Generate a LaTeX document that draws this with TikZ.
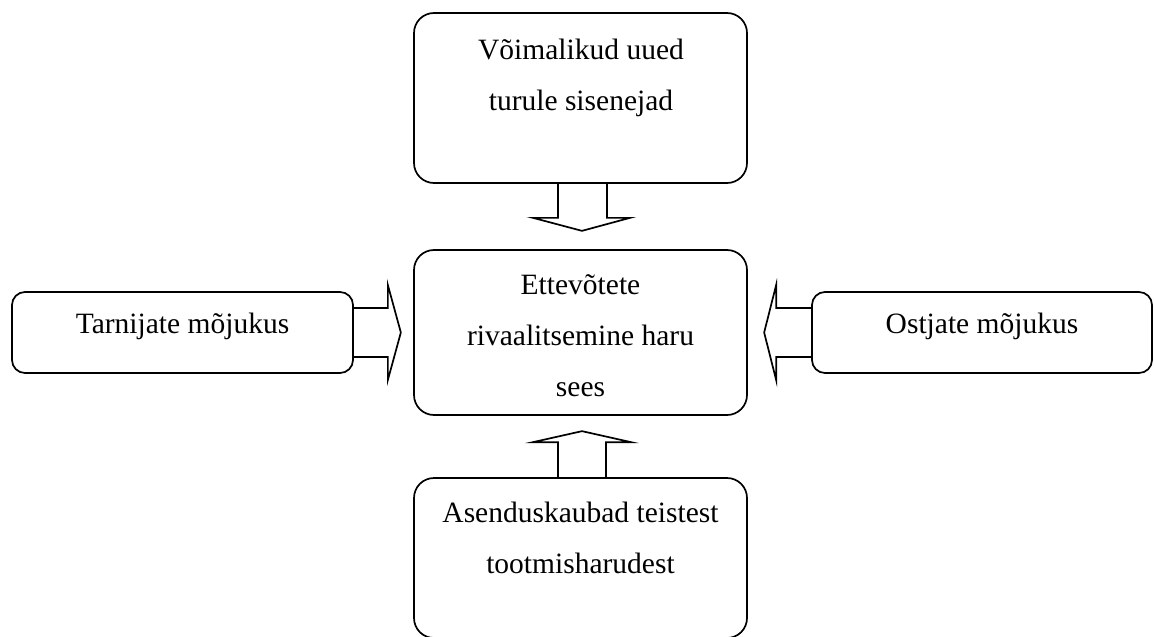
\documentclass[tikz,border=0pt]{standalone}
\usepackage{fontspec}
\setmainfont{Liberation Serif}
\usetikzlibrary{calc}
\begin{document}
\begin{tikzpicture}[x=1pt,y=-1pt,
  box/.style={draw, line width=1.7pt, rounded corners=20pt, inner sep=0pt, shape=rectangle},
  sidebox/.style={box, rounded corners=13pt},
  lbl/.style={font=\fontsize{29.5}{51}\selectfont, align=center, anchor=base, inner sep=0pt},
  blockarrow/.style={draw, line width=1.7pt, line join=miter}]
\useasboundingbox (0,0) rectangle (1154,637);
% boxes
\node[box, minimum width=333pt, minimum height=170pt] (top) at (580.5,98) {};
\node[box, minimum width=333pt, minimum height=165pt] (mid) at (580.5,332.5) {};
\node[box, minimum width=333pt, minimum height=160pt] (bot) at (580.5,558) {};
\node[sidebox, minimum width=341pt, minimum height=81pt] (left) at (182.5,332.5) {};
\node[sidebox, minimum width=340pt, minimum height=81pt] (right) at (982,332.5) {};
% texts (anchor = baseline of last line)
\node[lbl] (toptext) at (581,110) {Võimalikud uued\\turule sisenejad};
\node[lbl] (midtext) at (580.5,396) {Ettevõtete\\rivaalitsemine haru\\sees};
\node[lbl] (bottext) at (580.5,573) {Asenduskaubad teistest\\tootmisharudest};
\node[lbl] (lefttext) at (182.5,333) {Tarnijate mõjukus};
\node[lbl] (righttext) at (982,333) {Ostjate mõjukus};
% block arrows
\draw[blockarrow] ($(top.south)+(-22.5,0)$) -- ++(0,34) -- ++(-25,0) -- ++(49,13) -- ++(48,-13) -- ++(-23,0) -- ($(top.south)+(26.5,0)$);
\draw[blockarrow] ($(bot.north)+(-22.5,0)$) -- ++(0,-35) -- ++(-25,0) -- ++(49,-11) -- ++(49,11) -- ++(-25,0) -- ($(bot.north)+(25.5,0)$);
\draw[blockarrow] ($(left.east)+(0,-24.5)$) -- ++(34,0) -- ++(0,-23) -- ++(13,47.5) -- ++(-13,47.5) -- ++(0,-23) -- ($(left.east)+(0,24.5)$);
\draw[blockarrow] ($(right.west)+(0,-24.5)$) -- ++(-35,0) -- ++(0,-23) -- ++(-12,47.5) -- ++(12,47.5) -- ++(0,-23) -- ($(right.west)+(0,24.5)$);
\end{tikzpicture}
\end{document}
